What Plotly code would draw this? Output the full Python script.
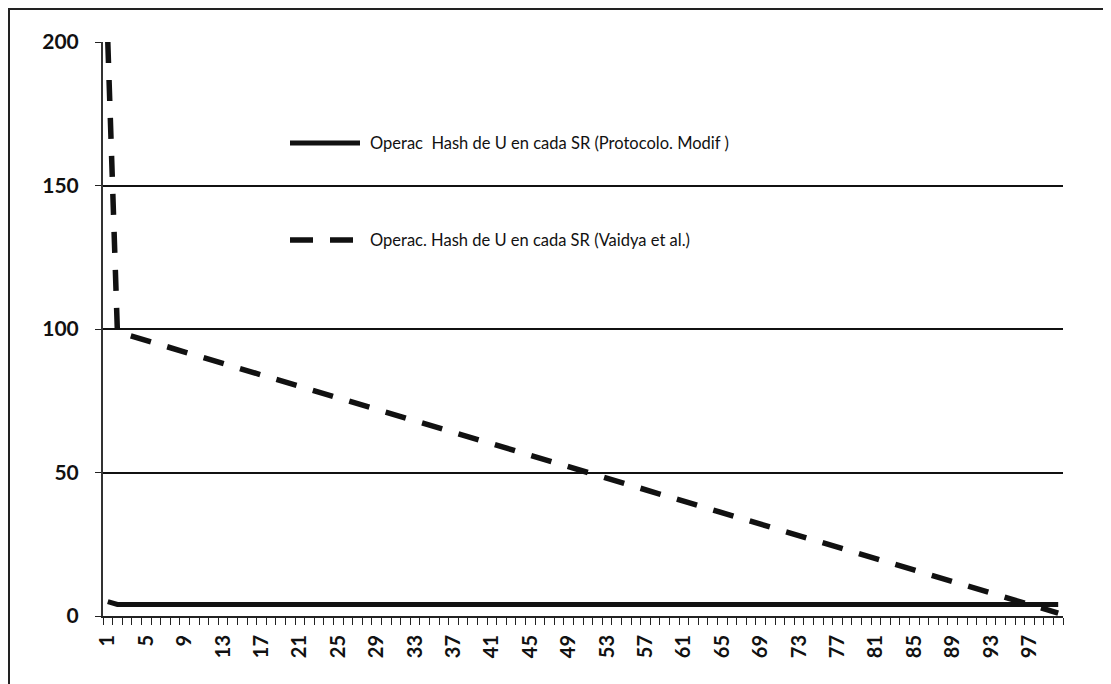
import plotly.graph_objects as go

categories = list(range(1, 101))

protocolo_modif = [5] + [4] * 99

vaidya = [200, 99, 98, 97, 96, 95, 94, 93, 92, 91,
          90, 89, 88, 87, 86, 85, 84, 83, 82, 81,
          80, 79, 78, 77, 76, 75, 74, 73, 72, 71,
          70, 69, 68, 67, 66, 65, 64, 63, 62, 61,
          60, 59, 58, 57, 56, 55, 54, 53, 52, 51,
          50, 49, 48, 47, 46, 45, 44, 43, 42, 41,
          40, 39, 38, 37, 36, 35, 34, 33, 32, 31,
          30, 29, 28, 27, 26, 25, 24, 23, 22, 21,
          20, 19, 18, 17, 16, 15, 14, 13, 12, 11,
          10, 9, 8, 7, 6, 5, 4, 3, 2, 1]

x_tick_vals = list(range(1, 101, 4))
x_tick_text = [str(v) for v in x_tick_vals]
y_tick_vals = [0, 50, 100, 150, 200]

name_modif = "Operac\u00a0 Hash de U en cada SR (Protocolo. Modif )"
name_vaidya = "Operac. Hash de U en cada SR (Vaidya et al.)"

W, H = 1103, 676
L, T, R, B = 95, 34, 48, 68
PW, PH = W - L - R, H - T - B


def px(xpix):
    return (xpix - L) / PW


def py(ypix):
    return 1 - (ypix - T) / PH


fig = go.Figure()
fig.add_trace(go.Scatter(
    x=categories, y=protocolo_modif, mode="lines", name=name_modif,
    line=dict(color="#111111", width=5), showlegend=False))
fig.add_trace(go.Scatter(
    x=categories, y=vaidya, mode="lines", name=name_vaidya,
    line=dict(color="#111111", width=5.5, dash="21px,17px"), showlegend=False))

legend_font = dict(family="Lato", size=16.5, color="#111111")
annotations = [
    dict(text=name_modif, xref="paper", yref="paper", x=px(360), y=py(135),
         xanchor="left", yanchor="middle", showarrow=False, font=legend_font),
    dict(text=name_vaidya, xref="paper", yref="paper", x=px(360), y=py(232),
         xanchor="left", yanchor="middle", showarrow=False, font=legend_font),
]
shapes = [
    dict(type="rect", xref="paper", yref="paper",
         x0=px(1), x1=px(1115), y0=py(700), y1=py(1),
         line=dict(color="#222222", width=2), fillcolor="rgba(0,0,0,0)"),
    dict(type="line", xref="paper", yref="paper",
         x0=px(282), x1=px(352), y0=py(135), y1=py(135),
         line=dict(color="#111111", width=5)),
    dict(type="line", xref="paper", yref="paper",
         x0=px(282), x1=px(350), y0=py(232), y1=py(232),
         line=dict(color="#111111", width=5.5, dash="23px,17px")),
]

fig.update_layout(
    width=W, height=H,
    margin=dict(l=L, r=R, t=T, b=B, autoexpand=False),
    paper_bgcolor="white", plot_bgcolor="white",
    showlegend=False,
    font=dict(family="Lato", color="#111111"),
    annotations=annotations,
    shapes=shapes,
    xaxis=dict(range=[0.5, 100.5], tickmode="array", tickvals=x_tick_vals,
               ticktext=x_tick_text, tickangle=-90, ticks="",
               showgrid=False, zeroline=False, showline=True,
               linecolor="#222222", linewidth=2,
               tickfont=dict(family="Lato", size=20, color="#111111", weight="bold"),
               ticklabelstandoff=9, automargin=False,
               minor=dict(tick0=0.5, dtick=1, ticks="outside", ticklen=7,
                          tickcolor="#222222", tickwidth=1.2, showgrid=False)),
    yaxis=dict(range=[0, 200], tickmode="array", tickvals=y_tick_vals,
               ticks="outside", ticklen=6, tickcolor="#222222",
               showgrid=True, gridcolor="#111111", gridwidth=1.5,
               zeroline=False, showline=True, linecolor="#333333", linewidth=2,
               tickfont=dict(family="Lato", size=21, color="#111111", weight="bold"),
               ticklabelstandoff=12, automargin=False),
)

fig.write_html("out.html")
